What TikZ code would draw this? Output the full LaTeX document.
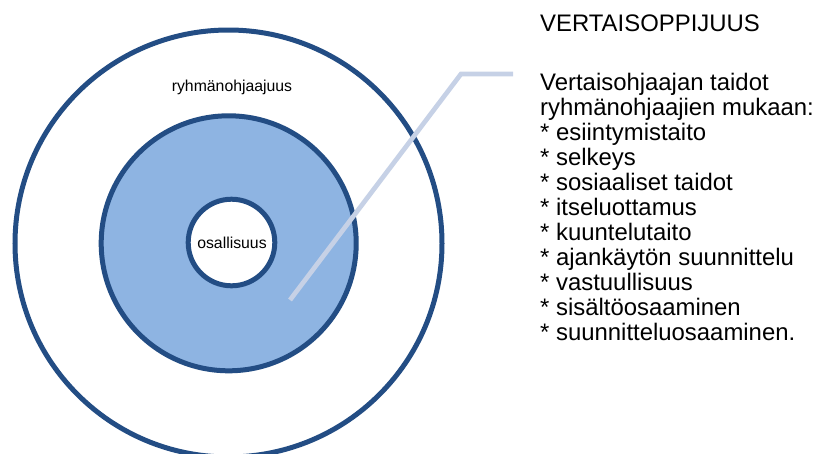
\documentclass[tikz,border=0pt]{standalone}
\usepackage{fontspec}
\setmainfont{Liberation Sans}
\definecolor{ringblue}{HTML}{234D84}
\definecolor{bandblue}{HTML}{8EB4E2}
\definecolor{leader}{HTML}{C6D1E6}
\tikzset{
  ring/.style={circle, draw=ringblue, line width=5pt, inner sep=0pt, fill=#1},
  smalllabel/.style={font=\fontsize{15.8}{18}\selectfont, inner sep=0pt, anchor=base},
  bigtext/.style={font=\fontsize{23.9}{25}\selectfont, inner sep=0pt, anchor=base west},
  leaderline/.style={draw=leader, line width=4.7pt}
}
\begin{document}
\begin{tikzpicture}[x=1pt, y=-1pt]
  \useasboundingbox (0,0) rectangle (820,453);
  \clip (0,0) rectangle (820,453);

  % concentric rings
  \node[ring=white, minimum size=427pt] (outer) at (228.5,243.5) {};
  \node[ring=bandblue, minimum size=255pt] (middle) at (228.7,243.3) {};
  \node[ring=white, minimum size=86.6pt] (inner) at (231.5,242.5) {};

  \node[smalllabel] (outerlabel) at (232,91) {ryhmänohjaajuus};
  \node[smalllabel] (innerlabel) at (232,248.3) {osallisuus};

  % callout leader from the middle band to the text
  \coordinate (tip) at (290,300);
  \coordinate (bend) at (461,74);
  \coordinate (lead) at (513,74);
  \draw[leaderline] (tip) -- (bend) -- (lead);

  % text block
  \node[bigtext] (title) at (540,31.7) {VERTAISOPPIJUUS};
  \foreach \t [count=\i] in {Vertaisohjaajan taidot, ryhmänohjaajien mukaan:,
      * esiintymistaito, * selkeys, * sosiaaliset taidot, * itseluottamus,
      * kuuntelutaito, * ajankäytön suunnittelu, * vastuullisuus,
      * sisältöosaaminen, * suunnitteluosaaminen.}
    \node[bigtext] (line\i) at (540,65+25*\i) {\t};
\end{tikzpicture}
\end{document}
